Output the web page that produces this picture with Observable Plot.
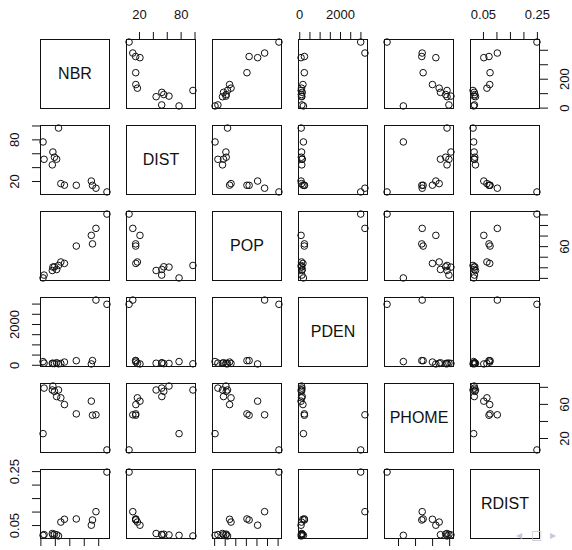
<!DOCTYPE html>
<html><head><meta charset="utf-8">
<script src="https://cdn.jsdelivr.net/npm/d3@7"></script>
<script src="https://cdn.jsdelivr.net/npm/@observablehq/plot@0.6"></script>
<style>
html,body{margin:0;padding:0;background:#fff;overflow:hidden;}
#chart{position:relative;width:572px;height:550px;font-family:"Liberation Sans",Arial,sans-serif;}
#chart svg{position:absolute;}
.nav{position:absolute;font-family:"DejaVu Sans",sans-serif;color:#c3c8dc;font-size:12px;line-height:12px;}
</style></head><body><div id="chart"></div>
<script>
// Variables (order of the scatterplot matrix)
const variables = ["NBR", "DIST", "POP", "PDEN", "PHOME", "RDIST"];

// Observations (14), one array per variable
const NBR   = [15, 122, 22, 83, 94, 109, 79, 138, 163, 245, 349, 357, 381, 457];
const DIST  = [77, 97, 52, 62.5, 55, 52.2, 44, 17, 14.8, 14.6, 20.7, 14.5, 10.4, 5];
const POP   = [0.8, 24.4, 6.2, 21.3, 21.9, 16.8, 14.9, 31, 28.3, 61.1, 81.3, 65.2, 94.5, 121.6];
const PDEN  = [181, 72, 106, 89, 82, 123, 99, 89, 157, 225, 65, 230, 3198, 2990];
const PHOME = [25.7, 76.9, 79.1, 81.5, 75.3, 69.2, 76.9, 67.7, 59.8, 48.9, 63.8, 47.3, 47.8, 6.6];
const RDIST = [0.0138, 0.0115, 0.0166, 0.0154, 0.018, 0.016, 0.0205, 0.0629, 0.0732, 0.0745, 0.0513, 0.0706, 0.1015, 0.2483];

// Axis ticks and the labels that are shown
const NBR_ticks   = [0, 100, 200, 300, 400];
const DIST_ticks  = [20, 40, 60, 80, 100];
const POP_ticks   = [0, 20, 40, 60, 80, 100, 120];
const PDEN_ticks  = [0, 500, 1000, 1500, 2000, 2500, 3000];
const PHOME_ticks = [20, 40, 60, 80];
const RDIST_ticks = [0.05, 0.10, 0.15, 0.20, 0.25];

const NBR_labels   = ["0", "200"];
const DIST_labels  = ["20", "80"];
const POP_labels   = ["60"];
const PDEN_labels  = ["0", "2000"];
const PHOME_labels = ["20", "60"];
const RDIST_labels = ["0.05", "0.25"];

const series = {NBR, DIST, POP, PDEN, PHOME, RDIST};
const ticks = {NBR: NBR_ticks, DIST: DIST_ticks, POP: POP_ticks, PDEN: PDEN_ticks, PHOME: PHOME_ticks, RDIST: RDIST_ticks};
const labels = {NBR: NBR_labels, DIST: DIST_labels, POP: POP_labels, PDEN: PDEN_labels, PHOME: PHOME_labels, RDIST: RDIST_labels};

const rows = NBR.map((_, k) => Object.fromEntries(variables.map(v => [v, series[v][k]])));

function rDomain(vals) {
  const lo = d3.min(vals), hi = d3.max(vals), p = (hi - lo) * 0.04;
  return [lo - p, hi + p];
}
const domains = Object.fromEntries(variables.map(v => [v, rDomain(series[v])]));

const S = 69, M = 34, STEP = 86, X0 = 40, Y0 = 39;
const n = variables.length;
const chart = document.getElementById("chart");
const font = {fontSize: 13};
const tickOpts = {tickSize: 8, tickFormat: () => "", label: null, stroke: "#111"};

for (let i = 0; i < n; i++) {
  for (let j = 0; j < n; j++) {
    const vx = variables[j], vy = variables[i];
    const marks = [];
    if (i === j) {
      marks.push(Plot.text([vx], {frameAnchor: "middle", text: d => d, fontSize: 16, fill: "#111"}));
    } else {
      marks.push(Plot.dot(rows, {x: vx, y: vy, r: 3.3, stroke: "#111", strokeWidth: 1, fill: "none"}));
    }
    // top axis
    if (i === 0 && j % 2 === 1) {
      marks.push(Plot.axisX(ticks[vx], {anchor: "top", ...tickOpts}));
      marks.push(Plot.text(labels[vx], {x: d => +d, text: d => d, frameAnchor: "top", dy: -25, lineAnchor: "middle", ...font, fill: "#111"}));
    }
    // bottom axis
    if (i === n - 1 && j % 2 === 0) {
      marks.push(Plot.axisX(ticks[vx], {anchor: "bottom", ...tickOpts}));
    }
    // left axis
    if (j === 0 && i % 2 === 1) {
      marks.push(Plot.axisY(ticks[vy], {anchor: "left", ...tickOpts}));
      marks.push(Plot.text(labels[vy], {y: d => +d, text: d => d, frameAnchor: "left", dx: -26, rotate: -90, textAnchor: "middle", lineAnchor: "middle", ...font, fill: "#111"}));
    }
    // right axis
    if (j === n - 1 && i % 2 === 0) {
      marks.push(Plot.axisY(ticks[vy], {anchor: "right", ...tickOpts}));
      marks.push(Plot.text(labels[vy], {y: d => +d, text: d => d, frameAnchor: "right", dx: 25, rotate: -90, textAnchor: "middle", lineAnchor: "middle", ...font, fill: "#111"}));
    }
    marks.push(Plot.frame({stroke: "#111", strokeWidth: 1}));
    const svg = Plot.plot({
      width: S + 2 * M, height: S + 2 * M,
      marginTop: M, marginBottom: M, marginLeft: M, marginRight: M,
      x: {domain: domains[vx], axis: null},
      y: {domain: domains[vy], axis: null},
      style: {background: "transparent", overflow: "visible", fontFamily: "'Liberation Sans', Arial, sans-serif"},
      marks
    });
    svg.style.left = (X0 + STEP * j - M) + "px";
    svg.style.top = (Y0 + STEP * i - M) + "px";
    chart.appendChild(svg);
  }
}

// beamer navigation symbols
[["\u25C2", 516], ["\u25A1", 531], ["\u25B8", 550]].forEach(([t, x]) => {
  const s = document.createElement("span");
  s.className = "nav"; s.textContent = t;
  s.style.left = x + "px"; s.style.top = "529px";
  chart.appendChild(s);
});
</script></body></html>
